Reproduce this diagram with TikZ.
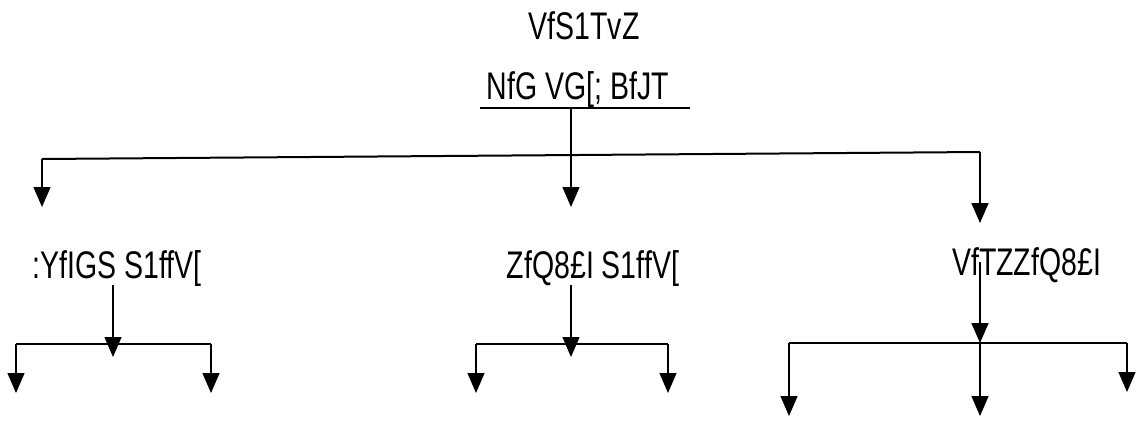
\documentclass[tikz,border=0pt]{standalone}
\usepackage{fontspec}
\setmainfont{Liberation Sans}[FakeStretch=0.74]
\usetikzlibrary{arrows.meta}
\begin{document}
\begin{tikzpicture}[x=1pt,y=-1pt,
  lbl/.style={font=\fontsize{38.5}{42}\selectfont, inner sep=0pt, anchor=base},
  arr/.style={-{Triangle[width=17pt,length=20pt]}, line width=1.3pt},
  bar/.style={line width=2pt}]
\useasboundingbox[fill=white] (0,0) rectangle (1143,421);
% texts
\node[lbl] (title) at (584,39) {VfS1TvZ};
\node[lbl] (head) at (578,99) {NfG VG[; BfJT};
\node[lbl] (left) at (117,278) {:YfIGS S1ffV[};
\node[lbl] (mid) at (593,278) {ZfQ8£I S1ffV[};
\node[lbl, anchor=base west] (right) at (952,275) {VfTZZfQ8£I};
% underline
\coordinate (ulL) at (480,108);
\coordinate (ulR) at (690,108);
\draw[line width=1.6pt] (ulL) -- (ulR);
% top level
\coordinate (hs) at (571,108);
\coordinate (hm) at (571,207);
\coordinate (tl) at (42,159);
\coordinate (tr) at (980,152);
\coordinate (tle) at (42,207);
\coordinate (tre) at (980,223);
\draw[bar] (tl) -- (tr);
\draw[arr] (hs) -- (hm);
\draw[arr] (tl) -- (tle);
\draw[arr] (tr) -- (tre);
% left lower group
\coordinate (ls) at (113,285);
\coordinate (le) at (113,357);
\coordinate (lh1) at (16,344);
\coordinate (lh2) at (211,344);
\coordinate (lh1e) at (16,393);
\coordinate (lh2e) at (211,393);
\draw[bar] (lh1) -- (lh2);
\draw[arr] (ls) -- (le);
\draw[arr] (lh1) -- (lh1e);
\draw[arr] (lh2) -- (lh2e);
% middle lower group
\coordinate (ms) at (571,285);
\coordinate (me) at (571,357);
\coordinate (mh1) at (476,344);
\coordinate (mh2) at (668,344);
\coordinate (mh1e) at (476,393);
\coordinate (mh2e) at (668,393);
\draw[bar] (mh1) -- (mh2);
\draw[arr] (ms) -- (me);
\draw[arr] (mh1) -- (mh1e);
\draw[arr] (mh2) -- (mh2e);
% right lower group
\coordinate (rs) at (980,262);
\coordinate (re) at (980,343);
\coordinate (rh1) at (789,343);
\coordinate (rh2) at (1127,343);
\coordinate (rh1e) at (789,416);
\coordinate (rme) at (980,416);
\coordinate (rh2e) at (1127,392);
\draw[bar] (rh1) -- (rh2);
\draw[arr] (rs) -- (re);
\draw[arr] (rh1) -- (rh1e);
\draw[arr] (re) -- (rme);
\draw[arr] (rh2) -- (rh2e);
\end{tikzpicture}
\end{document}
